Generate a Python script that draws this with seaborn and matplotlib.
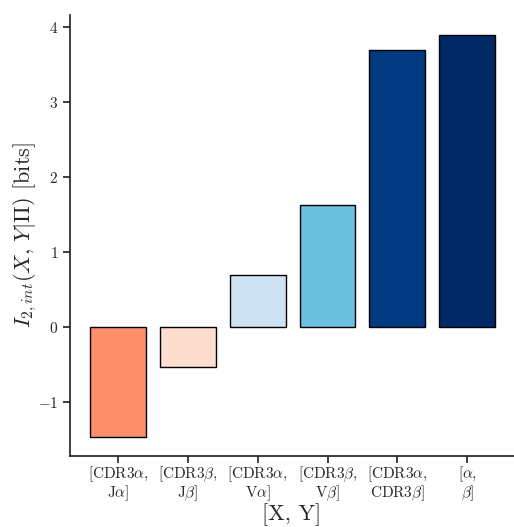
import matplotlib
matplotlib.use("Agg")
import matplotlib.pyplot as plt
import seaborn as sns
import pandas as pd

# pairs of gene segments and their interaction information
pairs = ["[CDR3$\\alpha$,\nJ$\\alpha$]", "[CDR3$\\beta$,\nJ$\\beta$]",
         "[CDR3$\\alpha$,\nV$\\alpha$]", "[CDR3$\\beta$,\nV$\\beta$]",
         "[CDR3$\\alpha$,\nCDR3$\\beta$]", "[$\\alpha$,\n$\\beta$]"]
i2_int = [-1.47, -0.53, 0.69, 1.63, 3.69, 3.89]
bar_colors = ["#fd8f6a", "#fedecf", "#cde3f3", "#6bbfdf", "#003a80", "#002a66"]

sns.set_theme(style="ticks")
plt.rcParams["font.family"] = ["serif"]
plt.rcParams["font.serif"] = ["cmr10", "DejaVu Serif"]
plt.rcParams["mathtext.fontset"] = "cm"
plt.rcParams["axes.formatter.use_mathtext"] = True

df = pd.DataFrame({"pair": pairs, "value": i2_int})

fig, ax = plt.subplots(figsize=(5.14, 5.27), dpi=100)
sns.barplot(data=df, x="pair", y="value", hue="pair", palette=bar_colors,
            legend=False, width=0.8, saturation=1, edgecolor="black",
            linewidth=1, ax=ax)

ax.set_xlim(-0.69, 5.67)
ax.set_ylim(-1.72, 4.16)
ax.set_yticks([-1, 0, 1, 2, 3, 4])
ax.tick_params(axis="x", labelsize=11, pad=1, length=5)
ax.tick_params(axis="y", labelsize=11, length=5)
for lbl in ax.get_xticklabels():
    lbl.set_linespacing(1.0)
ax.set_xlabel("[X, Y]", fontsize=16)
ax.xaxis.set_label_coords(0.5, -0.108)
ax.set_ylabel("$I_{2,int}(X,\\,Y|\\Pi)$ [bits]", fontsize=16, labelpad=-1)
sns.despine(ax=ax)

fig.subplots_adjust(left=0.136, right=1.0, top=0.972, bottom=0.135)
fig.savefig("out.png", dpi=100)
